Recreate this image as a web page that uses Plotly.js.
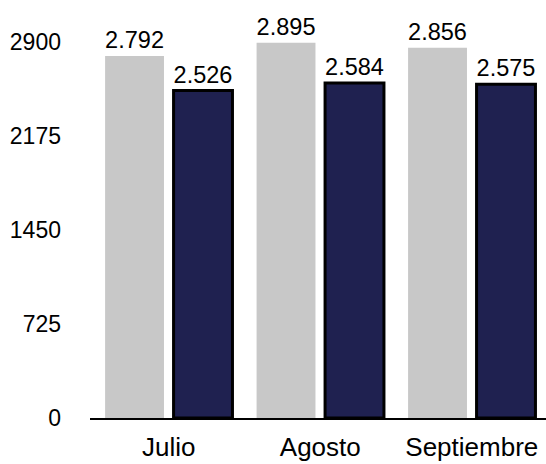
<!DOCTYPE html>
<html><head><meta charset="utf-8">
<script src="https://cdn.plot.ly/plotly-3.0.1.min.js"></script>
<style>body{margin:0;}#c{width:546px;height:464px;}</style>
</head><body><div id="c"></div>
<script>
const months = ["Julio", "Agosto", "Septiembre"];
const serieA = [2792, 2895, 2856];
const serieB = [2526, 2584, 2575];
const yTicks = [0, 725, 1450, 2175, 2900];

const fam = "Liberation Sans, Arial, sans-serif";
const traces = [
  {type: "bar", x: months, y: serieA, marker: {color: "#c8c8c8"},
   texttemplate: "%{y:,}", textposition: "outside", cliponaxis: false,
   textfont: {family: fam, size: 25, color: "#000"}, hoverinfo: "none"},
  {type: "bar", x: months, y: serieB, marker: {color: "#1f2150", line: {color: "#000", width: 3}},
   texttemplate: "%{y:,}", textposition: "outside", cliponaxis: false,
   textfont: {family: fam, size: 25, color: "#000"}, hoverinfo: "none"}
];
const layout = {
  width: 546, height: 464, separators: ",.",
  margin: {l: 90, r: 0, t: 42, b: 46},
  paper_bgcolor: "#fff", plot_bgcolor: "#fff",
  showlegend: false, barmode: "group", bargap: 0.096, bargroupgap: 0.14,
  font: {family: fam, size: 23, color: "#000"},
  xaxis: {range: [-0.52, 2.49], showline: true, linecolor: "#000", linewidth: 2, showgrid: false, ticks: "",
          ticklabelstandoff: 5, tickfont: {family: fam, size: 26, color: "#000"}},
  yaxis: {range: [0, 2900], tickvals: yTicks, ticktext: yTicks.map(String), showgrid: false,
          zeroline: false, showline: false, ticks: "", ticklabelstandoff: 28,
          tickfont: {family: fam, size: 23, color: "#000"}}
};
Plotly.newPlot("c", traces, layout, {displayModeBar: false, staticPlot: true});
</script></body></html>
